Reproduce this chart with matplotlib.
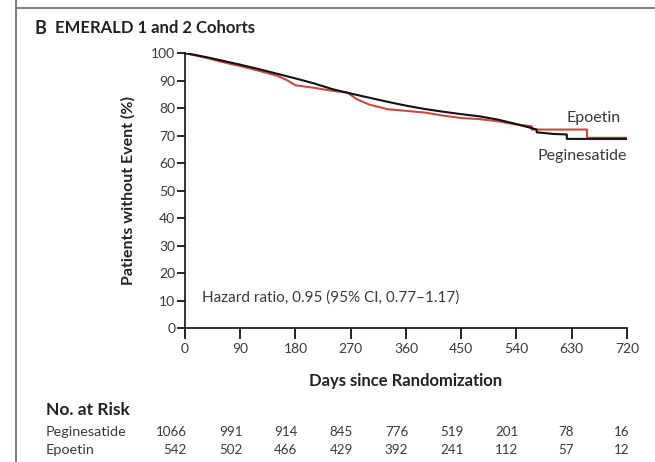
import matplotlib
matplotlib.use("Agg")
import matplotlib.pyplot as plt
from matplotlib.lines import Line2D

plt.rcParams['font.family'] = ['Lato', 'DejaVu Sans']

# Kaplan-Meier readings (days, % without event)
peg_days = [0, 20, 40, 60, 90, 120, 150, 180, 210, 240, 270, 300, 330, 360, 390,
            420, 450, 480, 510, 540, 560, 573, 573, 600, 622, 622, 720]
peg_surv = [100, 99.2, 98.3, 97.3, 95.8, 94.2, 92.5, 90.8, 89.0, 86.9, 85.3, 83.8,
            82.3, 80.9, 79.7, 78.7, 77.8, 77.0, 75.8, 74.2, 73.0, 72.2, 71.2, 70.6,
            70.4, 68.8, 68.8]
epo_days = [0, 20, 40, 60, 90, 120, 150, 165, 180, 210, 240, 265, 280, 300, 330,
            360, 390, 420, 450, 480, 510, 540, 565, 565, 655, 655, 720]
epo_surv = [100, 99.0, 98.0, 96.8, 95.3, 93.6, 91.8, 90.3, 88.3, 87.4, 86.3, 85.6,
            83.2, 81.3, 79.6, 79.0, 78.4, 77.3, 76.4, 76.0, 75.2, 74.0, 73.4, 72.2,
            72.2, 69.2, 69.2]

x_ticks = [0, 90, 180, 270, 360, 450, 540, 630, 720]
y_ticks = [0, 10, 20, 30, 40, 50, 60, 70, 80, 90, 100]
risk_peg = [1066, 991, 914, 845, 776, 519, 201, 78, 16]
risk_epo = [542, 502, 466, 429, 392, 241, 112, 57, 12]

txt = '#3a3a3a'
red = '#cc4a3c'

fig = plt.figure(figsize=(6.55, 4.62), dpi=100)
ax = fig.add_axes([0.2824, 0.29, 0.6748, 0.595])

ax.plot(epo_days, epo_surv, color=red, lw=1.5, zorder=2)
ax.plot(peg_days, peg_surv, color='#111111', lw=1.5, zorder=3)

ax.set_xlim(0, 720)
ax.set_ylim(0, 100)
ax.set_xticks(x_ticks)
ax.set_yticks(y_ticks)
for s in ['top', 'right']:
    ax.spines[s].set_visible(False)
for s in ['left', 'bottom']:
    ax.spines[s].set_linewidth(1.2)
    ax.spines[s].set_color('#111111')
ax.tick_params(axis='x', direction='out', length=8, width=1.2, labelsize=10,
               labelcolor=txt, pad=3)
ax.tick_params(axis='y', direction='out', length=6, width=1.2, labelsize=10,
               labelcolor=txt, pad=1)

ax.set_xlabel('Days since Randomization', fontsize=12, fontweight='bold',
              color='#222222', labelpad=13)
ax.set_ylabel('Patients without Event (%)', fontsize=11.5, fontweight='bold',
              color='#222222', labelpad=11)

ax.text(28, 11, 'Hazard ratio, 0.95 (95% CI, 0.77\u20131.17)', fontsize=11,
        color=txt, va='center', ha='left')
ax.text(710, 76.5, 'Epoetin', fontsize=11.5, color=txt, ha='right', va='center')
ax.text(720, 62.5, 'Peginesatide', fontsize=11.5, color=txt, ha='right', va='center')

# panel heading and frame
fig.text(34 / 655, 1 - 28 / 462, 'B', fontsize=13, fontweight='bold',
         color='#222222', va='center')
fig.text(55 / 655, 1 - 28 / 462, 'EMERALD 1 and 2 Cohorts', fontsize=12,
         fontweight='bold', color='#222222', va='center')
fig.add_artist(Line2D([16 / 655, 16 / 655], [0, 1], color='#666666', lw=1.2))
fig.add_artist(Line2D([16 / 655, 1], [1 - 8 / 462, 1 - 8 / 462],
                      color='#666666', lw=1.2))

# number at risk table
fig.text(46 / 655, 1 - 410 / 462, 'No. at Risk', fontsize=12.5, fontweight='bold',
         color='#222222', va='center')
rows = [('Peginesatide', risk_peg, 432), ('Epoetin', risk_epo, 450)]
for name, counts, ypix in rows:
    yf = 1 - ypix / 462
    fig.text(46 / 655, yf, name, fontsize=10.4, color=txt, va='center')
    for d, n in zip(x_ticks, counts):
        xf = (185 + d * 442 / 720 + 2) / 655
        fig.text(xf, yf, str(n), fontsize=9.6, color=txt, va='center', ha='right')

fig.savefig('out.png', dpi=100)
